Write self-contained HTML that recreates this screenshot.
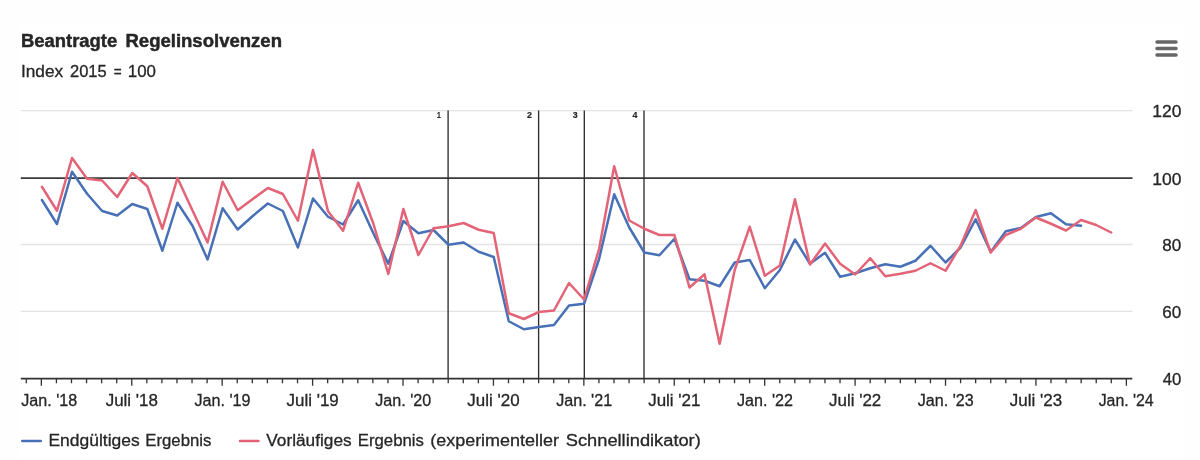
<!DOCTYPE html>
<html lang="de"><head><meta charset="utf-8"><title>Beantragte Regelinsolvenzen</title>
<style>
html,body{margin:0;padding:0}
body{width:1200px;height:460px;overflow:hidden;background:#fefefe;font-family:"Liberation Sans",sans-serif}
#box{position:absolute;left:19px;top:25px;width:1164px;height:435px;background:#fff}
svg{position:absolute;left:0;top:0}
text{font-family:"Liberation Sans",sans-serif;fill:#262626;stroke:#262626;stroke-width:0.3px}
text.b{stroke-width:0.45px}
text.n{stroke-width:0.2px}
</style></head><body><div id="box"></div>
<svg width="1200" height="460" viewBox="0 0 1200 460">
<path d="M20.8 110.6 H1132.5" stroke="#e4e4e4" stroke-width="1.3" fill="none"/>
<path d="M20.8 244.5 H1132.5" stroke="#e4e4e4" stroke-width="1.3" fill="none"/>
<path d="M20.8 311.3 H1132.5" stroke="#e4e4e4" stroke-width="1.3" fill="none"/>
<path d="M20.8 178.1 H1132.5" stroke="#3a3a3a" stroke-width="1.6" fill="none"/>
<path d="M448.1 110.5 V378" stroke="#2e2e2e" stroke-width="1.35" fill="none"/>
<path d="M538.6 110.5 V378" stroke="#2e2e2e" stroke-width="1.35" fill="none"/>
<path d="M584.3 110.5 V378" stroke="#2e2e2e" stroke-width="1.35" fill="none"/>
<path d="M644 110.5 V378" stroke="#2e2e2e" stroke-width="1.35" fill="none"/>
<path d="M20.8 378.65 H1132.3" stroke="#333" stroke-width="1.6" fill="none"/>
<path d="M26.28 378 V383.2 M41.35 378 V385.8 M56.42 378 V383.2 M71.49 378 V383.2 M86.56 378 V383.2 M101.63 378 V383.2 M116.70 378 V383.2 M131.77 378 V385.8 M146.84 378 V383.2 M161.91 378 V383.2 M176.97 378 V383.2 M192.04 378 V383.2 M207.11 378 V383.2 M222.18 378 V385.8 M237.25 378 V383.2 M252.32 378 V383.2 M267.39 378 V383.2 M282.46 378 V383.2 M297.53 378 V383.2 M312.60 378 V385.8 M327.67 378 V383.2 M342.74 378 V383.2 M357.81 378 V383.2 M372.88 378 V383.2 M387.95 378 V383.2 M403.02 378 V385.8 M418.09 378 V383.2 M433.16 378 V383.2 M448.23 378 V383.2 M463.29 378 V383.2 M478.36 378 V383.2 M493.43 378 V385.8 M508.50 378 V383.2 M523.57 378 V383.2 M538.64 378 V383.2 M553.71 378 V383.2 M568.78 378 V383.2 M583.85 378 V385.8 M598.92 378 V383.2 M613.99 378 V383.2 M629.06 378 V383.2 M644.13 378 V383.2 M659.20 378 V383.2 M674.27 378 V385.8 M689.34 378 V383.2 M704.41 378 V383.2 M719.48 378 V383.2 M734.54 378 V383.2 M749.61 378 V383.2 M764.68 378 V385.8 M779.75 378 V383.2 M794.82 378 V383.2 M809.89 378 V383.2 M824.96 378 V383.2 M840.03 378 V383.2 M855.10 378 V385.8 M870.17 378 V383.2 M885.24 378 V383.2 M900.31 378 V383.2 M915.38 378 V383.2 M930.45 378 V383.2 M945.52 378 V385.8 M960.59 378 V383.2 M975.66 378 V383.2 M990.73 378 V383.2 M1005.79 378 V383.2 M1020.86 378 V383.2 M1035.93 378 V385.8 M1051.00 378 V383.2 M1066.07 378 V383.2 M1081.14 378 V383.2 M1096.21 378 V383.2 M1111.28 378 V383.2 M1126.35 378 V385.8" stroke="#333" stroke-width="1.3" fill="none"/>
<path d="M41.90 200.00 L56.96 224.00 L72.02 171.75 L87.08 193.75 L102.14 211.00 L117.20 215.50 L132.26 204.00 L147.32 209.00 L162.38 250.75 L177.45 202.75 L192.51 225.75 L207.57 259.50 L222.63 208.25 L237.69 229.50 L252.75 216.00 L267.81 203.50 L282.87 211.00 L297.93 247.50 L312.99 198.50 L328.05 216.75 L343.11 224.50 L358.17 200.25 L373.23 233.00 L388.29 263.75 L403.35 221.00 L418.41 233.25 L433.47 230.00 L448.54 244.75 L463.60 242.50 L478.66 251.75 L493.72 257.00 L508.78 321.25 L523.84 329.25 L538.90 327.00 L553.96 325.00 L569.02 305.50 L584.08 303.75 L599.14 258.75 L614.20 194.25 L629.26 227.50 L644.32 252.50 L659.38 255.25 L674.44 238.75 L689.50 279.25 L704.56 280.75 L719.63 286.25 L734.69 262.50 L749.75 260.00 L764.81 288.25 L779.87 270.00 L794.93 239.50 L809.99 263.75 L825.05 252.75 L840.11 276.75 L855.17 273.25 L870.23 268.25 L885.29 264.25 L900.35 266.75 L915.41 260.75 L930.47 245.75 L945.53 262.50 L960.59 247.50 L975.65 219.25 L990.72 252.00 L1005.78 231.25 L1020.84 228.00 L1035.90 217.00 L1050.96 213.25 L1066.02 224.25 L1081.08 225.75" stroke="#4870b6" stroke-width="2.5" fill="none" stroke-linejoin="round" stroke-linecap="round"/>
<path d="M41.90 186.75 L56.96 210.75 L72.02 158.00 L87.08 178.75 L102.14 180.50 L117.20 197.00 L132.26 173.00 L147.32 186.25 L162.38 228.75 L177.45 178.00 L192.51 210.50 L207.57 242.50 L222.63 181.75 L237.69 210.25 L252.75 199.00 L267.81 188.00 L282.87 194.00 L297.93 220.75 L312.99 150.00 L328.05 211.25 L343.11 230.75 L358.17 182.75 L373.23 223.25 L388.29 274.00 L403.35 209.00 L418.41 255.00 L433.47 228.25 L448.54 226.25 L463.60 223.00 L478.66 229.75 L493.72 233.00 L508.78 313.25 L523.84 319.00 L538.90 312.00 L553.96 310.50 L569.02 283.00 L584.08 299.50 L599.14 248.75 L614.20 166.25 L629.26 220.50 L644.32 228.75 L659.38 235.00 L674.44 235.00 L689.50 287.50 L704.56 274.25 L719.63 343.75 L734.69 270.00 L749.75 226.75 L764.81 275.75 L779.87 265.50 L794.93 199.25 L809.99 264.50 L825.05 243.50 L840.11 263.75 L855.17 274.50 L870.23 258.25 L885.29 276.25 L900.35 273.75 L915.41 270.75 L930.47 263.25 L945.53 270.75 L960.59 245.75 L975.65 210.00 L990.72 252.50 L1005.78 235.00 L1020.84 228.75 L1035.90 217.50 L1050.96 223.75 L1066.02 230.50 L1081.08 220.00 L1096.14 225.00 L1111.20 232.50" stroke="#e36377" stroke-width="2.5" fill="none" stroke-linejoin="round" stroke-linecap="round"/>
<path d="M1157 42 H1176 M1157 48.5 H1176 M1157 55 H1176" stroke="#666" stroke-width="3.5" stroke-linecap="round" fill="none"/>
<path d="M22.25 441 H40.75" stroke="#4870b6" stroke-width="2.5" stroke-linecap="round" fill="none"/>
<path d="M240 441 H258.5" stroke="#e36377" stroke-width="2.5" stroke-linecap="round" fill="none"/>
<text class="b" y="47.3" font-size="17.5" font-weight="bold"><tspan x="20.95" textLength="96.27" lengthAdjust="spacingAndGlyphs">Beantragte</tspan> <tspan x="125.44" textLength="156.54" lengthAdjust="spacingAndGlyphs">Regelinsolvenzen</tspan></text>
<text y="76.9" font-size="17.0"><tspan x="20.98" textLength="42.26" lengthAdjust="spacingAndGlyphs">Index</tspan> <tspan x="70.00" textLength="36.69" lengthAdjust="spacingAndGlyphs">2015</tspan> <tspan x="113.75" textLength="7.94" lengthAdjust="spacingAndGlyphs">=</tspan> <tspan x="127.76" textLength="28.20" lengthAdjust="spacingAndGlyphs">100</tspan></text>
<text y="446.25" font-size="17.3"><tspan x="48.49" textLength="91.15" lengthAdjust="spacingAndGlyphs">Endgültiges</tspan> <tspan x="145.28" textLength="66.12" lengthAdjust="spacingAndGlyphs">Ergebnis</tspan></text>
<text y="446.25" font-size="17.3"><tspan x="266.25" textLength="85.39" lengthAdjust="spacingAndGlyphs">Vorläufiges</tspan> <tspan x="357.78" textLength="66.12" lengthAdjust="spacingAndGlyphs">Ergebnis</tspan> <tspan x="430.21" textLength="128.78" lengthAdjust="spacingAndGlyphs">(experimenteller</tspan> <tspan x="565.75" textLength="135.05" lengthAdjust="spacingAndGlyphs">Schnellindikator)</tspan></text>
<text y="406.3" font-size="17.3"><tspan x="21.30" textLength="55.97" lengthAdjust="spacingAndGlyphs">Jan. '18</tspan></text>
<text y="406.3" font-size="17.3"><tspan x="105.67" textLength="52.30" lengthAdjust="spacingAndGlyphs">Juli '18</tspan></text>
<text y="406.3" font-size="17.3"><tspan x="194.48" textLength="55.97" lengthAdjust="spacingAndGlyphs">Jan. '19</tspan></text>
<text y="406.3" font-size="17.3"><tspan x="286.50" textLength="52.30" lengthAdjust="spacingAndGlyphs">Juli '19</tspan></text>
<text y="406.3" font-size="17.3"><tspan x="375.32" textLength="55.97" lengthAdjust="spacingAndGlyphs">Jan. '20</tspan></text>
<text y="406.3" font-size="17.3"><tspan x="467.33" textLength="52.30" lengthAdjust="spacingAndGlyphs">Juli '20</tspan></text>
<text y="406.3" font-size="17.3"><tspan x="556.15" textLength="55.97" lengthAdjust="spacingAndGlyphs">Jan. '21</tspan></text>
<text y="406.3" font-size="17.3"><tspan x="648.17" textLength="52.30" lengthAdjust="spacingAndGlyphs">Juli '21</tspan></text>
<text y="406.3" font-size="17.3"><tspan x="736.98" textLength="55.97" lengthAdjust="spacingAndGlyphs">Jan. '22</tspan></text>
<text y="406.3" font-size="17.3"><tspan x="829.00" textLength="52.30" lengthAdjust="spacingAndGlyphs">Juli '22</tspan></text>
<text y="406.3" font-size="17.3"><tspan x="917.82" textLength="55.97" lengthAdjust="spacingAndGlyphs">Jan. '23</tspan></text>
<text y="406.3" font-size="17.3"><tspan x="1009.83" textLength="52.30" lengthAdjust="spacingAndGlyphs">Juli '23</tspan></text>
<text y="406.3" font-size="17.3"><tspan x="1098.65" textLength="55.04" lengthAdjust="spacingAndGlyphs">Jan. '24</tspan></text>
<text y="117.39999999999999" font-size="17.3"><tspan x="1152.24" textLength="29.13" lengthAdjust="spacingAndGlyphs">120</tspan></text>
<text y="184.70000000000002" font-size="17.3"><tspan x="1152.24" textLength="29.13" lengthAdjust="spacingAndGlyphs">100</tspan></text>
<text y="251.3" font-size="17.3"><tspan x="1162.35" textLength="19.00" lengthAdjust="spacingAndGlyphs">80</tspan></text>
<text y="318.1" font-size="17.3"><tspan x="1162.35" textLength="19.00" lengthAdjust="spacingAndGlyphs">60</tspan></text>
<text y="385.0" font-size="17.3"><tspan x="1162.75" textLength="18.59" lengthAdjust="spacingAndGlyphs">40</tspan></text>
<text class="n" y="118.3" font-size="9" font-weight="bold"><tspan x="436.90" textLength="3.80" lengthAdjust="spacingAndGlyphs">1</tspan></text>
<text class="n" y="118.3" font-size="9" font-weight="bold"><tspan x="527.10" textLength="4.91" lengthAdjust="spacingAndGlyphs">2</tspan></text>
<text class="n" y="118.3" font-size="9" font-weight="bold"><tspan x="572.80" textLength="4.91" lengthAdjust="spacingAndGlyphs">3</tspan></text>
<text class="n" y="118.3" font-size="9" font-weight="bold"><tspan x="632.50" textLength="4.91" lengthAdjust="spacingAndGlyphs">4</tspan></text>
</svg></body></html>
